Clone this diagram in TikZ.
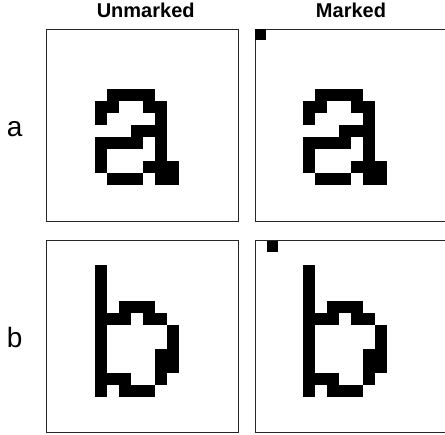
\documentclass[tikz,border=0pt]{standalone}
\usepackage{fontspec}
\setmainfont{Liberation Sans}
\usetikzlibrary{positioning}
\definecolor{glyphink}{HTML}{000000}
\definecolor{frameline}{HTML}{262626}
\tikzset{
  panel/.style={
    rectangle,
    draw=frameline,
    line width=1pt,
    fill=white,
    minimum width=192pt,
    minimum height=192pt,
    inner sep=0pt,
    outer sep=0pt
  },
  colhead/.style={font=\fontsize{20}{24}\selectfont\bfseries, inner sep=0pt},
  rowhead/.style={font=\fontsize{28}{32}\selectfont, inner sep=0pt, text height=22pt, text depth=0pt},
  pixel/.style={fill=glyphink}
}
\newcommand{\glypha}{5/5,6/5,7/5,8/5,4/6,5/6,8/6,9/6,4/7,9/7,7/8,8/8,9/8,4/9,5/9,6/9,7/9,9/9,4/10,9/10,4/11,8/11,9/11,10/11,5/12,6/12,7/12,9/12,10/12}
\newcommand{\glyphb}{4/2,4/3,4/4,4/5,4/6,4/7,4/8,4/9,4/10,4/11,4/12,6/5,7/5,8/5,5/6,6/6,8/6,9/6,10/7,10/8,9/9,10/9,9/10,10/10,5/11,6/11,9/11,6/12,7/12,8/12}

\begin{document}
\begin{tikzpicture}[x=1pt,y=1pt]
\useasboundingbox (0,0) rectangle (445,435);
\node[panel] (ua) at (142.7,309.7) {};
\node[panel, right=16.3pt of ua] (ma) {};
\node[panel, below=19.4pt of ua] (ub) {};
\node[panel, right=16.3pt of ub] (mb) {};
\node[colhead, above=11.5pt of ua, xshift=3pt] (unmarked) {Unmarked};
\node[colhead, above=11.5pt of ma] (marked) {Marked};
\node[rowhead, left=24pt of ua] (rowa) {a};
\node[rowhead, left=24pt of ub] (rowb) {b};
\foreach \p in {ua,ma}
  \foreach \c/\r in \glypha
    \fill[pixel] ([shift={(12*\c,-12*\r)}]\p.north west) rectangle +(12,-12);
\foreach \p in {ub,mb}
  \foreach \c/\r in \glyphb
    \fill[pixel] ([shift={(12*\c,-12*\r)}]\p.north west) rectangle +(12,-12);
\fill[pixel] (ma.north west) rectangle +(11,-11);
\fill[pixel] ([shift={(12,0)}]mb.north west) rectangle +(11,-11);
\end{tikzpicture}
\end{document}
